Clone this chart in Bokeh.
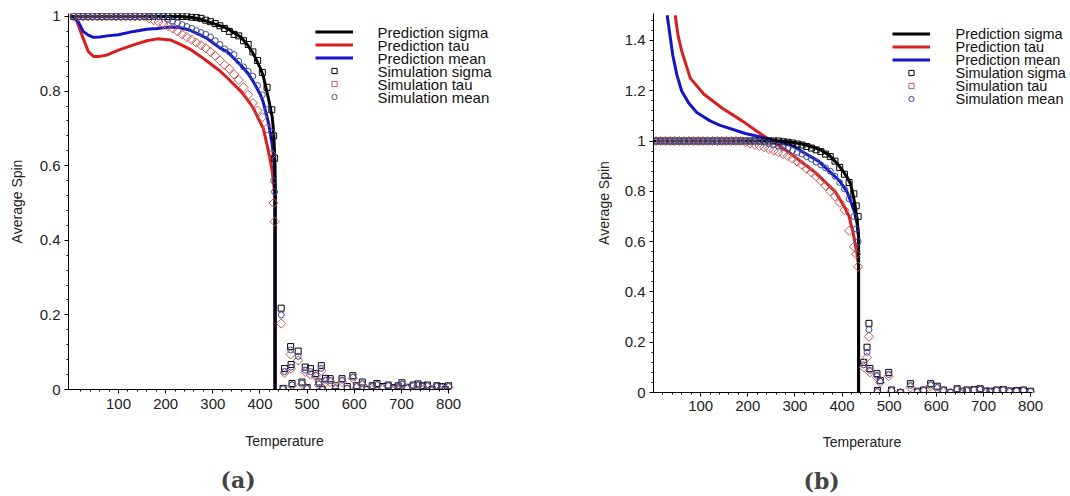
import math
from bokeh.plotting import figure
from bokeh.layouts import row
from bokeh.models import (Range1d, FixedTicker, Legend, LegendItem, Title, Label,
                          CustomJSTickFormatter)
from bokeh.embed import file_html
from bokeh.resources import INLINE

# ---------------- data: panel (a) ----------------
T_pred_a = [0, 5, 12, 18, 25, 36, 47, 60, 76, 100, 132, 160, 182, 210, 231,
            252, 274, 288, 316, 331, 359, 373, 386, 401, 407, 418, 426, 429, 432, 432]
pred_sigma_a = [1.0, 1.0, 1.0, 1.0, 1.0, 1.0, 1.0, 1.0, 1.0, 1.0, 1.0, 1.0, 1.0, 1.0, 1.0,
                0.998, 0.993, 0.987, 0.975, 0.968, 0.945, 0.925, 0.9, 0.861, 0.84, 0.78,
                0.73, 0.69, 0.6, 0.0]
pred_tau_a = [1.0, 0.998, 0.987, 0.965, 0.942, 0.906, 0.893, 0.893, 0.897, 0.91, 0.924,
              0.935, 0.94, 0.937, 0.925, 0.912, 0.893, 0.88, 0.853, 0.835, 0.8, 0.778,
              0.754, 0.715, 0.7, 0.639, 0.586, 0.55, 0.52, 0.0]
pred_mean_a = [1.0, 0.999, 0.991, 0.978, 0.96, 0.95, 0.944, 0.945, 0.948, 0.951, 0.96,
               0.966, 0.968, 0.972, 0.97, 0.963, 0.95, 0.941, 0.915, 0.905, 0.87, 0.85,
               0.825, 0.79, 0.77, 0.715, 0.657, 0.62, 0.56, 0.0]

T_sim_a = [5, 15, 25, 35, 45, 55, 65, 75, 85, 95, 105, 115, 125, 135, 145, 155, 165,
           175, 185, 195, 205, 215, 225, 235, 245, 255, 265, 275, 285, 295, 305, 315,
           325, 335, 345, 355, 365, 375, 385, 395, 405, 415, 425, 429, 431,
           445, 449, 452, 465, 466, 468, 481, 489, 496, 500, 507, 518, 525, 530, 532,
           539, 549, 560, 574, 585, 597, 605, 617, 627, 638, 648, 660, 672, 684, 693,
           701, 712, 725, 735, 745, 755, 765, 775, 785, 793, 800]
sim_sigma_a = [1.0] * 25 + [
    0.998, 0.997, 0.995, 0.99, 0.986, 0.981, 0.975, 0.968, 0.96, 0.952, 0.948, 0.935,
    0.925, 0.905, 0.882, 0.85, 0.81, 0.75, 0.68, 0.62,
    0.218, 0.003, 0.056, 0.115, 0.067, 0.016, 0.103, 0.02, 0.06, 0.005, 0.056, 0.043,
    0.02, 0.064, 0.0, 0.03, 0.029, 0.01, 0.029, 0.008, 0.037, 0.01, 0.02, 0.0, 0.01,
    0.016, 0.008, 0.012, 0.005, 0.01, 0.018, 0.006, 0.012, 0.015, 0.01, 0.012, 0.0,
    0.01, 0.008, 0.0, 0.01]
sim_tau_a = [1.0] * 16 + [
    0.995, 0.99, 0.985, 0.98, 0.974, 0.968, 0.96, 0.952, 0.945, 0.938, 0.93, 0.923,
    0.915, 0.905, 0.895, 0.882, 0.87, 0.86, 0.845, 0.83, 0.81, 0.79, 0.768, 0.748,
    0.73, 0.7, 0.63, 0.5, 0.45,
    0.177, 0.0, 0.045, 0.094, 0.056, 0.01, 0.078, 0.015, 0.047, 0.0, 0.04, 0.035,
    0.012, 0.05, 0.0, 0.02, 0.02, 0.0, 0.02, 0.0, 0.03, 0.005, 0.012, 0.0, 0.005,
    0.01, 0.002, 0.008, 0.0, 0.006, 0.012, 0.002, 0.008, 0.01, 0.005, 0.008, 0.0,
    0.006, 0.004, 0.0, 0.006]
sim_mean_a = [1.0] * 20 + [
    0.993, 0.988, 0.983, 0.978, 0.973, 0.968, 0.962, 0.957, 0.952, 0.945, 0.935,
    0.925, 0.913, 0.905, 0.898, 0.88, 0.865, 0.853, 0.84, 0.815, 0.79, 0.75, 0.69,
    0.56, 0.53,
    0.2, 0.002, 0.048, 0.106, 0.06, 0.012, 0.089, 0.017, 0.052, 0.003, 0.048, 0.038,
    0.015, 0.057, 0.0, 0.025, 0.024, 0.005, 0.025, 0.004, 0.033, 0.008, 0.016, 0.0,
    0.008, 0.013, 0.005, 0.01, 0.003, 0.008, 0.015, 0.004, 0.01, 0.012, 0.008, 0.01,
    0.0, 0.008, 0.006, 0.0, 0.008]

# ---------------- data: panel (b) ----------------
T_pred_sigma_b = [0, 100, 200, 270, 290, 312, 335, 354, 372, 390, 400, 411, 418, 424,
                  428, 432, 435, 435]
pred_sigma_b = [1.0, 1.0, 1.0, 1.0, 0.996, 0.989, 0.978, 0.965, 0.945, 0.91, 0.885,
                0.855, 0.83, 0.78, 0.74, 0.69, 0.62, 0.0]
T_pred_tau_b = [46, 52, 60, 78, 107, 146, 188, 230, 280, 340, 385, 403, 415, 424, 431,
                435, 435]
pred_tau_b = [1.5, 1.42, 1.357, 1.25, 1.186, 1.13, 1.08, 1.025, 0.965, 0.88, 0.8,
              0.745, 0.7, 0.63, 0.56, 0.5, 0.0]
T_pred_mean_b = [29, 35, 41, 50, 60, 75, 92, 120, 140, 195, 240, 288, 350, 393, 410,
                 418, 426, 432, 435, 435]
pred_mean_b = [1.5, 1.42, 1.34, 1.26, 1.198, 1.15, 1.113, 1.08, 1.063, 1.03, 1.01,
               0.988, 0.92, 0.845, 0.8, 0.762, 0.72, 0.67, 0.62, 0.0]

T_sim_b = [5, 15, 25, 35, 45, 55, 65, 75, 85, 95, 105, 115, 125, 135, 145, 155, 165,
           175, 185, 195, 205, 215, 225, 235, 245, 255, 265, 275, 285, 295, 305, 315,
           325, 335, 345, 355, 365, 375, 385, 395, 405, 415, 425, 430, 434,
           446, 453, 457, 459, 474, 475, 481, 499, 505, 524, 545, 560, 573, 588, 602,
           615, 630, 644, 655, 665, 680, 693, 705, 714, 728, 742, 755, 770, 785, 800]
sim_sigma_b = [1.0] * 27 + [
    0.997, 0.995, 0.992, 0.988, 0.984, 0.978, 0.972, 0.965, 0.958, 0.948, 0.938, 0.92,
    0.895, 0.868, 0.835, 0.79, 0.742, 0.7,
    0.12, 0.18, 0.275, 0.095, 0.075, 0.008, 0.048, 0.08, 0.01, 0.0, 0.035, 0.005, 0.01,
    0.035, 0.025, 0.01, 0.0, 0.015, 0.005, 0.01, 0.012, 0.015, 0.006, 0.005, 0.01,
    0.012, 0.006, 0.008, 0.01, 0.005]
sim_tau_b = [1.0] * 19 + [
    0.995, 0.99, 0.985, 0.98, 0.975, 0.968, 0.962, 0.955, 0.948, 0.94, 0.93, 0.918,
    0.905, 0.89, 0.875, 0.86, 0.842, 0.822, 0.8, 0.78, 0.755, 0.725, 0.643, 0.58,
    0.55, 0.5,
    0.1, 0.14, 0.222, 0.08, 0.06, 0.0, 0.04, 0.065, 0.005, 0.0, 0.02, 0.0, 0.005,
    0.025, 0.015, 0.005, 0.0, 0.01, 0.0, 0.005, 0.008, 0.01, 0.002, 0.0, 0.006,
    0.008, 0.002, 0.004, 0.005, 0.002]
sim_mean_b = [1.0] * 23 + [
    0.995, 0.99, 0.985, 0.98, 0.975, 0.97, 0.962, 0.955, 0.948, 0.938, 0.928, 0.916,
    0.905, 0.893, 0.88, 0.86, 0.835, 0.81, 0.77, 0.7, 0.65, 0.6,
    0.11, 0.16, 0.25, 0.088, 0.068, 0.004, 0.045, 0.072, 0.008, 0.0, 0.028, 0.003,
    0.008, 0.03, 0.02, 0.008, 0.0, 0.012, 0.003, 0.008, 0.01, 0.012, 0.004, 0.003,
    0.008, 0.01, 0.004, 0.006, 0.008, 0.004]

legend_labels = ["Prediction sigma", "Prediction tau", "Prediction mean",
                 "Simulation sigma", "Simulation tau", "Simulation mean"]
x_ticks = [100, 200, 300, 400, 500, 600, 700, 800]
y_ticks_a = [0, 0.2, 0.4, 0.6, 0.8, 1]
y_ticks_b = [0, 0.2, 0.4, 0.6, 0.8, 1, 1.2, 1.4]

# ---------------- styling ----------------
C_BLACK = "#000000"
C_RED = "#d81e1e"
C_BLUE = "#1414c8"
C_DIAM = "#c45a55"
C_CIRC = "#3c4ca0"
FONT = "Liberation Sans"
ROW = 13  # legend row pitch in px


def build(T_ps, ps, T_pt, pt, T_pm, pm, T_s, ss, st, sm, xr, xbounds, yr, yticks,
          fw, fh, mbl, mbr, mbt, ylab_standoff, xtick_standoff, xlab_standoff,
          caption, cap_offset, cap_standoff, leg_x, leg_top, text_x, leg_font):
    p = figure(frame_width=fw, frame_height=fh, x_range=Range1d(*xr),
               y_range=Range1d(*yr), output_backend="svg", toolbar_location=None,
               min_border_left=mbl, min_border_right=mbr, min_border_top=mbt,
               min_border_bottom=0)
    p.outline_line_color = None
    p.grid.visible = False
    fmt = CustomJSTickFormatter(code="return String(tick)")
    minor_x = [v for v in range(20, 820, 20)]
    minor_y = [round(0.04 * i, 2) for i in range(1, int(yr[1] / 0.04) + 1)]
    p.xaxis.ticker = FixedTicker(ticks=x_ticks, minor_ticks=minor_x)
    p.yaxis.ticker = FixedTicker(ticks=yticks, minor_ticks=minor_y)
    p.xaxis.bounds = xbounds
    for ax in (p.xaxis[0], p.yaxis[0]):
        ax.formatter = fmt
        ax.major_tick_in = 0
        ax.major_tick_out = 4
        ax.minor_tick_in = 0
        ax.minor_tick_out = 2
        ax.axis_line_color = "black"
        ax.major_tick_line_color = "black"
        ax.minor_tick_line_color = "black"
        ax.major_label_text_font = FONT
        ax.major_label_text_font_size = "15px"
        ax.major_label_text_color = "#222222"
        ax.axis_label_text_font = FONT
        ax.axis_label_text_font_size = "14px"
        ax.axis_label_text_font_style = "normal"
        ax.axis_label_text_color = "#222222"
    p.xaxis.major_label_standoff = xtick_standoff
    p.yaxis.major_label_standoff = 4
    p.xaxis.axis_label = "Temperature"
    p.yaxis.axis_label = "Average Spin"
    p.xaxis.axis_label_standoff = xlab_standoff
    p.yaxis.axis_label_standoff = ylab_standoff

    r_t = p.line(T_pt, pt, line_color=C_RED, line_width=3)
    r_m = p.line(T_pm, pm, line_color=C_BLUE, line_width=3)
    r_s = p.line(T_ps, ps, line_color=C_BLACK, line_width=3)
    q_s = p.scatter(T_s, ss, marker="square", size=6, fill_color=None,
                    line_color=C_BLACK, line_width=1)
    q_t = p.scatter(T_s, st, marker="square", angle=math.pi / 4, size=6.5,
                    fill_color=None, line_color=C_DIAM, line_width=1)
    q_m = p.scatter(T_s, sm, marker="circle", size=6, fill_color=None,
                    line_color=C_CIRC, line_width=1)

    # legend: glyph samples from Bokeh's Legend, text rows as labels (tight pitch)
    n = len(legend_labels)
    items = [LegendItem(label=" ", renderers=[r]) for r in
             [r_s, r_t, r_m, q_s, q_t, q_m]]
    leg = Legend(items=items, location=(leg_x, fh - leg_top - n * ROW),
                 orientation="vertical", border_line_color=None,
                 background_fill_alpha=0, padding=0, margin=0, spacing=0,
                 glyph_width=38, glyph_height=ROW, label_height=ROW, label_width=0,
                 label_standoff=0, label_text_font_size="1px")
    p.add_layout(leg)
    for i, lab in enumerate(legend_labels):
        p.add_layout(Label(x=text_x, y=fh - leg_top - ROW * i - ROW / 2,
                           x_units="screen", y_units="screen", text=lab,
                           text_baseline="middle", text_align="left",
                           text_font=FONT, text_font_size=leg_font,
                           text_color="#111111"))
    p.add_layout(Title(text=caption, text_font="DejaVu Serif", text_font_style="bold",
                       text_font_size="22px", align="left", offset=cap_offset,
                       standoff=cap_standoff, vertical_align="top"),
                 "below")
    return p


pa = build(T_pred_a, pred_sigma_a, T_pred_a, pred_tau_a, T_pred_a, pred_mean_a,
           T_sim_a, sim_sigma_a, sim_tau_a, sim_mean_a,
           (-6, 910), (-6, 805), (0, 1.008), y_ticks_a, 432, 376, 68, 30, 13,
           12, 5, 21, "(a)", 152, 30, 247, 12, 309, "15px")
pb = build(T_pred_sigma_b, pred_sigma_b, T_pred_tau_b, pred_tau_b, T_pred_mean_b,
           pred_mean_b, T_sim_b, sim_sigma_b, sim_tau_b, sim_mean_b,
           (0, 884.6), (0, 805), (0, 1.507), y_ticks_b, 417, 379, 123, 0, 13,
           10, 4, 20, "(b)", 150, 30, 239, 14, 302, "14.5px")

layout = row(pa, pb)
open("out.html", "w").write(file_html(layout, INLINE))
